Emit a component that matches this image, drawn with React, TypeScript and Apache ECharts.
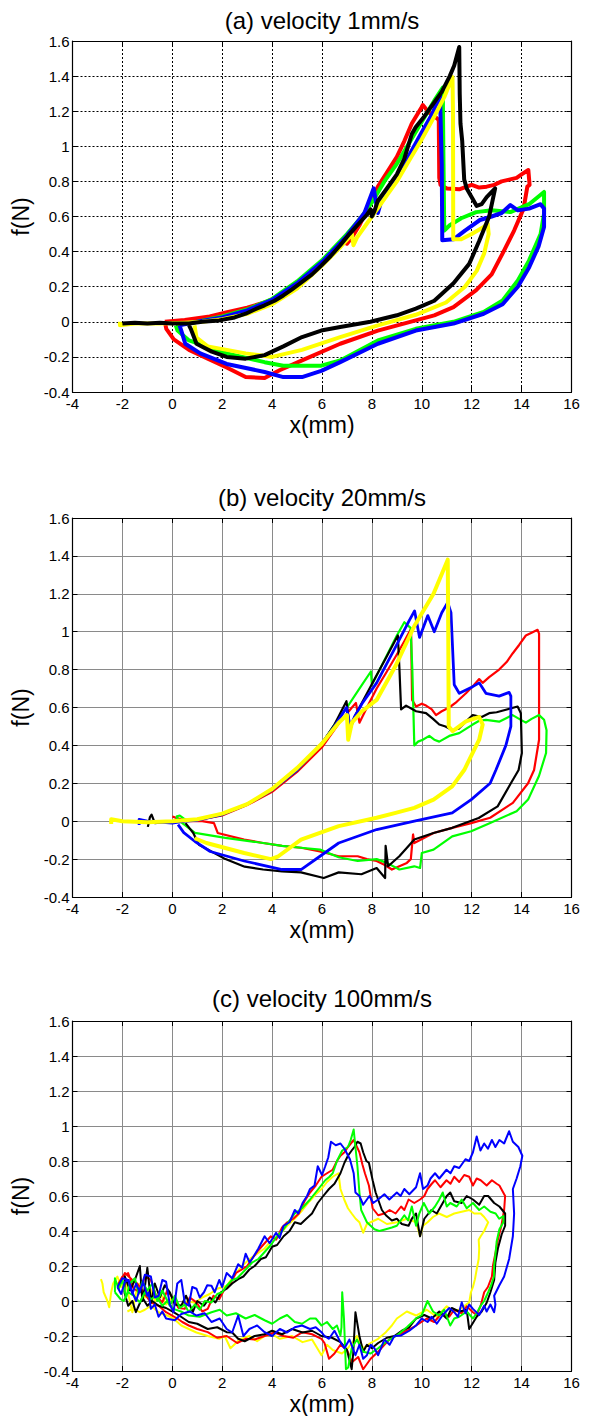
import React, { useEffect, useRef } from "react";
import * as echarts from "echarts";

const TITLES = ["(a) velocity 1mm/s", "(b) velocity 20mm/s", "(c) velocity 100mm/s"];
const X_NAME = "x(mm)";
const Y_NAME = "f(N)";
const X_RANGE = [-4, 16, 2];
const Y_RANGE = [-0.4, 1.6, 0.2];

const RED = "#ff0000";
const GREEN = "#00ff00";
const BLUE = "#0000ff";
const YELLOW = "#ffff00";
const BLACK = "#000000";

// ---------- panel (a) velocity 1mm/s ----------
const A_RED = [[-0.3,0.0],[0.5,0.01],[1.5,0.03],[2.2,0.055],[3,0.08],[3.7,0.11],[4.5,0.16],[5.2,0.235],[6,0.33],[6.5,0.4],[6.95,0.47],[7.0,0.445],[7.2,0.48],[7.5,0.55],[8.0,0.7],[8.24,0.77],[8.6,0.85],[9.0,0.94],[9.3,1.03],[9.6,1.13],[9.98,1.22],[10.04,1.235],[10.3,1.19],[10.6,1.16],[10.68,1.15],[10.7,0.82],[10.75,0.78],[10.85,0.77],[11,0.76],[11.5,0.755],[11.8,0.77],[12.0,0.78],[12.3,0.765],[12.6,0.77],[12.9,0.78],[13.2,0.8],[13.5,0.81],[13.8,0.82],[14.0,0.84],[14.27,0.865],[14.32,0.78],
[14.23,0.77],[14.08,0.645],[13.7,0.52],[13.24,0.39],[12.8,0.27],[12.18,0.18],[11.27,0.084],[10.5,0.037],[9.76,0.008],[8.24,-0.05],[6.73,-0.125],[5.2,-0.22],[4.3,-0.276],[3.7,-0.32],[2.94,-0.315],[2.18,-0.26],[1.42,-0.21],[0.67,-0.16],[0.06,-0.1],[-0.24,-0.04],[-0.3,0.0]];
const A_GREEN = [[0.14,-0.02],[1,0.0],[2,0.03],[3,0.07],[4,0.13],[5,0.23],[6,0.35],[7,0.5],[7.6,0.6],[8.0,0.68],[8.5,0.8],[9,0.9],[9.5,1.02],[10,1.14],[10.5,1.26],[10.84,1.334],[10.87,0.9],[10.9,0.52],[11.12,0.55],[11.58,0.59],[12.18,0.625],[12.8,0.635],[13.55,0.625],[14.3,0.67],[14.9,0.74],
[14.9,0.616],[14.76,0.5],[14.3,0.35],[13.85,0.236],[13.24,0.122],[12.48,0.056],[11.27,0.0],[9.76,-0.04],[8.24,-0.106],[6.73,-0.22],[5.97,-0.25],[4.45,-0.25],[3.7,-0.23],[2.18,-0.18],[0.67,-0.106],[0.21,-0.05],[0.14,-0.02]];
const A_BLUE = [[0.29,-0.02],[1,0.0],[2,0.025],[3,0.065],[4,0.125],[5,0.22],[6,0.34],[7,0.49],[7.7,0.62],[8.07,0.76],[8.24,0.62],[8.4,0.7],[9,0.82],[9.5,0.95],[10,1.08],[10.4,1.18],[10.73,1.286],[10.8,0.9],[10.82,0.465],[11.27,0.47],[11.73,0.52],[12.33,0.58],[12.8,0.6],[13.2,0.62],[13.55,0.665],[13.85,0.635],[14.3,0.645],[14.76,0.67],[14.9,0.645],
[14.9,0.54],[14.68,0.43],[14.3,0.31],[13.85,0.2],[13.24,0.1],[12.48,0.046],[11.27,-0.01],[9.76,-0.05],[8.24,-0.125],[6.73,-0.23],[5.97,-0.28],[5.2,-0.315],[4.45,-0.315],[3.7,-0.286],[2.18,-0.24],[1.12,-0.18],[0.52,-0.125],[0.36,-0.05],[0.29,-0.02]];
const A_YELLOW = [[-2.1,0.0],[-2.1,-0.02],[-1.5,-0.01],[-0.5,-0.01],[0.5,-0.005],[1.2,0.0],[2,0.015],[3,0.045],[4,0.1],[5,0.19],[6,0.32],[6.7,0.42],[7.2,0.5],[7.26,0.436],[7.4,0.48],[7.8,0.56],[8.2,0.64],[8.6,0.72],[9,0.8],[9.5,0.92],[10,1.04],[10.5,1.17],[10.9,1.28],[11.23,1.395],[11.25,1.2],[11.26,0.47],[11.58,0.47],[12.0,0.5],[12.48,0.54],[12.64,0.56],
[12.68,0.5],[12.5,0.39],[12.2,0.29],[11.73,0.2],[10.97,0.11],[9.76,0.04],[8.24,-0.02],[6.73,-0.087],[5.2,-0.16],[4.0,-0.2],[3.5,-0.19],[2.94,-0.18],[1.42,-0.14],[0.97,-0.09],[0.89,-0.02]];
const A_BLACK = [[-2.0,-0.01],[-1.5,-0.005],[-1,-0.01],[-0.5,-0.005],[0,-0.01],[0.67,-0.01],[1.2,0.0],[1.88,0.008],[2.5,0.025],[2.94,0.046],[3.3,0.07],[3.7,0.094],[4.1,0.12],[4.45,0.15],[4.8,0.185],[5.2,0.227],[5.6,0.27],[5.97,0.32],[6.35,0.375],[6.73,0.436],[7.1,0.5],[7.48,0.56],[7.8,0.61],[7.95,0.64],[8.0,0.6],[8.1,0.63],[8.24,0.69],[8.6,0.76],[9.0,0.84],[9.3,0.93],[9.6,1.07],[9.76,1.11],[10.1,1.17],[10.5,1.25],[10.8,1.31],[11.12,1.40],[11.3,1.46],[11.5,1.566],[11.52,1.3],[11.55,1.13],[11.62,1.03],[11.7,0.81],[11.8,0.76],[12.0,0.71],[12.2,0.66],[12.4,0.67],[12.6,0.71],[12.94,0.76],
[12.7,0.6],[12.3,0.46],[11.9,0.33],[11.27,0.22],[10.5,0.12],[9.76,0.075],[9.0,0.037],[7.94,0.0],[6.73,-0.03],[5.97,-0.05],[5.2,-0.087],[4.45,-0.14],[3.7,-0.19],[2.94,-0.21],[2.18,-0.2],[1.58,-0.17],[0.97,-0.125],[0.74,-0.04],[0.67,-0.02]];

// ---------- panel (b) velocity 20mm/s ----------
const B_RED = [[0.0,0.025],[0.3,0.01],[1,0.005],[2,0.03],[3,0.085],[4,0.155],[5,0.26],[6,0.39],[6.7,0.52],[7.2,0.6],[7.36,0.624],[7.5,0.52],[7.8,0.6],[8.19,0.7],[8.6,0.79],[9.0,0.88],[9.3,0.95],[9.57,1.016],[9.61,0.64],[9.77,0.605],[10.0,0.62],[10.17,0.61],[10.4,0.59],[10.57,0.56],[10.8,0.58],[11.1,0.6],[11.4,0.63],[11.77,0.675],[12.1,0.72],[12.3,0.75],[12.44,0.73],[12.7,0.76],[13.1,0.8],[13.4,0.84],[13.64,0.885],[13.9,0.93],[14.17,0.98],[14.4,0.995],[14.64,1.01],[14.7,0.99],
[14.7,0.43],[14.5,0.27],[14.26,0.2],[13.65,0.097],[12.74,0.018],[11.98,-0.01],[11.22,-0.035],[10.47,-0.062],[9.7,-0.115],[9.65,-0.07],[9.56,-0.2],[9.4,-0.22],[8.8,-0.255],[8.5,-0.23],[8.19,-0.21],[7.8,-0.2],[7.43,-0.185],[6.67,-0.185],[5.92,-0.16],[5.16,-0.14],[4.4,-0.13],[3.64,-0.115],[2.88,-0.097],[1.82,-0.062],[1.67,-0.01],[1.2,0.0],[0.6,0.0],[0.0,0.025]];
const B_GREEN = [[0.15,0.025],[0.3,0.03],[0.6,0.0],[1,0.005],[2,0.035],[3,0.09],[4,0.165],[5,0.27],[6,0.41],[6.6,0.53],[7.0,0.6],[7.5,0.7],[7.96,0.79],[8.0,0.72],[8.5,0.85],[9.0,0.98],[9.3,1.05],[9.55,1.02],[9.62,0.8],[9.7,0.4],[9.85,0.42],[10.04,0.43],[10.3,0.45],[10.5,0.43],[10.7,0.42],[11.1,0.45],[11.5,0.465],[11.8,0.49],[12.04,0.51],[12.3,0.53],[12.57,0.535],[13.1,0.525],[13.4,0.545],[13.64,0.56],[13.9,0.54],[14.17,0.52],[14.4,0.54],[14.7,0.56],[14.9,0.535],[15.0,0.48],
[14.98,0.36],[14.7,0.24],[14.26,0.114],[13.8,0.053],[12.74,-0.01],[11.98,-0.053],[11.22,-0.08],[10.47,-0.15],[10.0,-0.168],[9.93,-0.247],[9.7,-0.238],[9.1,-0.255],[8.6,-0.22],[8.19,-0.2],[7.43,-0.21],[6.67,-0.19],[5.92,-0.15],[5.16,-0.14],[4.4,-0.13],[3.64,-0.115],[2.13,-0.088],[0.91,-0.062],[0.3,0.0],[0.15,0.025]];
const B_BLACK = [[-0.98,-0.03],[-0.9,0.02],[-0.83,0.035],[-0.7,-0.01],[0,0.0],[0.5,0.0],[1,0.01],[2,0.035],[3,0.09],[3.95,0.16],[5,0.27],[5.99,0.41],[6.5,0.51],[6.98,0.633],[7.13,0.48],[7.3,0.55],[7.58,0.62],[8.19,0.77],[8.6,0.87],[9.04,0.98],[9.1,0.815],[9.17,0.59],[9.37,0.61],[9.77,0.58],[10.17,0.57],[10.45,0.54],[10.7,0.51],[10.95,0.5],[11.24,0.48],[11.5,0.49],[11.8,0.53],[12.04,0.56],[12.4,0.55],[12.7,0.57],[13.0,0.575],[13.37,0.588],[13.84,0.605],[13.97,0.57],
[14.01,0.36],[13.88,0.27],[13.57,0.2],[13.04,0.078],[12.28,0.017],[11.22,-0.035],[10.47,-0.062],[9.7,-0.097],[9.1,-0.185],[8.65,-0.238],[8.55,-0.13],[8.53,-0.3],[8.19,-0.247],[7.58,-0.28],[6.67,-0.27],[6.07,-0.3],[5.16,-0.27],[4.4,-0.265],[3.64,-0.255],[2.9,-0.24],[2.13,-0.2],[1.07,-0.124],[0.84,-0.062],[0.53,-0.01]];
const B_BLUE = [[-1.33,-0.02],[-1.33,0.01],[-1,0.0],[0,-0.01],[0.5,0.0],[1,0.005],[2,0.035],[3,0.09],[3.95,0.16],[5,0.27],[5.99,0.41],[6.5,0.5],[6.98,0.6],[7.13,0.5],[7.3,0.55],[7.6,0.62],[8.19,0.73],[8.95,0.92],[9.5,1.06],[9.71,1.11],[9.91,0.97],[10.24,1.085],[10.5,1.0],[10.8,1.1],[11.04,1.155],[11.17,1.1],[11.3,0.72],[11.5,0.675],[12.04,0.71],[12.3,0.73],[12.57,0.675],[13.1,0.66],[13.5,0.68],[13.57,0.66],
[13.57,0.5],[13.37,0.4],[12.97,0.27],[12.74,0.2],[11.98,0.114],[11.22,0.044],[9.7,0.0],[8.19,-0.044],[6.67,-0.115],[5.92,-0.185],[5.16,-0.255],[4.4,-0.255],[2.88,-0.21],[1.52,-0.16],[0.91,-0.107],[0.46,-0.06],[0.23,-0.018]];
const B_YELLOW = [[-2.45,-0.015],[-2.45,0.01],[-2,0.0],[-1,-0.005],[0,0.0],[1,0.01],[2,0.04],[3,0.09],[4,0.17],[5,0.28],[6,0.41],[6.67,0.52],[7.0,0.56],[7.05,0.43],[7.2,0.52],[7.6,0.58],[8.19,0.64],[8.95,0.82],[9.7,1.03],[10.47,1.2],[11.04,1.38],[11.06,1.0],[11.08,0.5],[11.24,0.475],[11.77,0.527],[12.3,0.55],[12.44,0.51],
[12.3,0.43],[11.7,0.27],[11.22,0.184],[10.47,0.114],[9.7,0.07],[8.95,0.044],[8.19,0.018],[6.67,-0.026],[5.16,-0.097],[4.25,-0.185],[3.95,-0.2],[2.88,-0.168],[1.37,-0.115],[0.9,-0.09]];

// ---------- panel (c) velocity 100mm/s ----------
const C_YELLOW = [[-2.86,0.125],[-2.8,0.1],[-2.75,0.05],[-2.6,0.0],[-2.53,-0.036],[-2.45,0.05],[-2.37,0.1],[-2.2,0.14],[-2.05,0.08],[-1.9,0.12],[-1.75,0.03],[-1.6,-0.064],[-1.45,0.05],[-1.3,0.1],[-1.1,0.02],[-0.9,0.08],[-0.7,0.0],[-0.5,0.05],[-0.25,-0.02],[0.0,0.02],[0.3,-0.03],[0.6,0.0],[0.9,-0.01],[1.2,0.02],[1.5,0.04],[1.8,0.07],[2.18,0.087],[2.5,0.15],[2.8,0.2],[3.1,0.24],[3.4,0.27],[3.7,0.3],[4.0,0.35],[4.3,0.38],[4.6,0.43],[4.9,0.47],[5.22,0.52],[5.5,0.57],[5.75,0.61],[5.98,0.64],[6.2,0.68],[6.43,0.71],[6.66,0.73],[6.74,0.64],[6.89,0.58],[7.04,0.53],[7.19,0.5],[7.35,0.47],[7.5,0.45],[7.65,0.39],[7.8,0.44],[7.95,0.45],[8.25,0.47],[8.6,0.44],[9.0,0.45],[9.4,0.47],[9.77,0.45],[9.93,0.37],[10.05,0.43],[10.23,0.45],[10.45,0.48],[10.69,0.5],[11.0,0.48],[11.3,0.5],[11.6,0.51],[11.9,0.52],[12.1,0.5],[12.36,0.5],[12.5,0.48],[12.66,0.45],[12.5,0.4],[12.36,0.37],[12.28,0.35],[12.3,0.3],[12.28,0.24],[12.2,0.18],[12.13,0.125],[12.05,0.08],[11.97,0.05],[11.9,-0.008],
[11.6,-0.04],[11.3,-0.064],[11.0,-0.03],[10.6,-0.09],[10.2,-0.05],[9.77,-0.083],[9.4,-0.06],[9.0,-0.1],[8.8,-0.14],[8.56,-0.178],[8.25,-0.216],[7.95,-0.24],[7.65,-0.27],[7.4,-0.2],[7.04,-0.27],[6.8,-0.3],[6.43,-0.28],[6.2,-0.25],[5.98,-0.31],[5.6,-0.22],[5.22,-0.235],[4.8,-0.2],[4.31,-0.216],[4.0,-0.19],[3.7,-0.2],[3.4,-0.23],[3.09,-0.2],[2.7,-0.22],[2.33,-0.27],[2.1,-0.2],[1.88,-0.216],[1.42,-0.2],[0.97,-0.18],[0.66,-0.16],[0.36,-0.14],[0.05,-0.1],[-0.25,-0.08],[-0.55,-0.064],[-0.86,-0.027],[-1.1,-0.05],[-1.3,-0.064],[-1.6,-0.045],[-1.8,-0.06]];
const C_RED = [[-2.2,0.087],[-2.0,0.14],[-1.77,0.16],[-1.55,0.07],[-1.3,0.05],[-1.1,0.14],[-0.86,0.12],[-0.65,0.03],[-0.4,-0.008],[-0.2,0.06],[0.05,0.01],[0.25,-0.04],[0.5,-0.045],[0.7,0.02],[0.97,-0.008],[1.2,-0.06],[1.42,-0.045],[1.65,0.03],[1.88,0.01],[2.1,0.07],[2.33,0.1],[2.55,0.16],[2.79,0.18],[3.0,0.2],[3.24,0.25],[3.45,0.29],[3.7,0.33],[3.95,0.37],[4.16,0.35],[4.4,0.42],[4.61,0.45],[4.85,0.47],[5.07,0.5],[5.3,0.57],[5.52,0.62],[5.75,0.66],[5.98,0.71],[6.2,0.73],[6.43,0.75],[6.6,0.8],[6.74,0.83],[6.9,0.85],[7.04,0.88],[7.27,0.92],[7.5,0.85],[7.62,0.78],[7.72,0.73],[7.88,0.66],[8.03,0.53],[8.25,0.49],[8.5,0.5],[8.71,0.52],[8.95,0.5],[9.17,0.54],[9.3,0.52],[9.47,0.58],[9.7,0.56],[9.93,0.58],[10.1,0.6],[10.23,0.64],[10.4,0.67],[10.53,0.69],[10.75,0.65],[10.99,0.69],[11.15,0.67],[11.3,0.71],[11.5,0.68],[11.7,0.72],[11.9,0.71],[12.05,0.66],[12.2,0.7],[12.36,0.69],[12.6,0.66],[12.81,0.69],[13.0,0.67],[13.11,0.66],[13.34,0.6],[13.3,0.52],[13.19,0.43],[13.05,0.35],[12.96,0.28],[12.85,0.2],[12.81,0.14],[12.65,0.08],[12.5,0.05],[12.36,-0.027],[12.2,-0.08],[12.05,-0.064],[11.8,-0.03],[11.6,-0.07],[11.3,-0.05],[11.1,-0.09],[10.8,-0.07],[10.5,-0.12],[10.2,-0.1],[9.77,-0.14],[9.4,-0.17],[9.0,-0.197],[8.7,-0.22],[8.5,-0.25],[8.25,-0.29],[8.1,-0.31],[7.95,-0.33],[7.8,-0.36],[7.65,-0.39],[7.45,-0.32],[7.2,-0.35],[7.0,-0.28],[6.74,-0.25],[6.5,-0.3],[6.28,-0.33],[6.1,-0.24],[5.98,-0.216],[5.6,-0.19],[5.22,-0.178],[4.85,-0.21],[4.46,-0.2],[4.1,-0.18],[3.7,-0.2],[3.3,-0.22],[2.94,-0.216],[2.6,-0.24],[2.18,-0.2],[1.8,-0.21],[1.42,-0.178],[1.0,-0.16],[0.66,-0.14],[0.4,-0.12],[0.2,-0.1],[-0.25,-0.064],[-0.55,-0.027],[-0.86,-0.008],[-1.16,0.05],[-1.4,0.1],[-1.6,0.12],[-1.9,0.16],[-2.05,0.12],[-2.2,0.087]];
const C_BLACK = [[-1.92,0.05],[-1.9,0.14],[-1.7,0.06],[-1.5,0.12],[-1.3,0.2],[-1.2,0.0],[-1.1,0.08],[-1.0,0.19],[-0.85,-0.01],[-0.7,0.1],[-0.5,0.02],[-0.3,0.09],[-0.1,0.05],[0.1,-0.02],[0.36,-0.027],[0.55,0.03],[0.82,-0.064],[1.0,0.0],[1.27,-0.027],[1.5,0.02],[1.73,-0.008],[1.95,0.05],[2.18,0.07],[2.4,0.1],[2.64,0.125],[2.85,0.14],[3.09,0.18],[3.3,0.2],[3.55,0.24],[3.75,0.25],[4.0,0.31],[4.2,0.32],[4.46,0.37],[4.7,0.4],[4.91,0.45],[5.15,0.44],[5.37,0.47],[5.6,0.5],[5.83,0.56],[6.05,0.6],[6.28,0.64],[6.5,0.67],[6.74,0.73],[6.9,0.79],[7.04,0.83],[7.19,0.86],[7.3,0.88],[7.42,0.91],[7.55,0.9],[7.65,0.85],[7.78,0.8],[7.88,0.79],[8.03,0.69],[8.15,0.62],[8.25,0.58],[8.4,0.52],[8.56,0.49],[8.8,0.46],[9.0,0.47],[9.2,0.44],[9.47,0.43],[9.6,0.47],[9.77,0.5],[9.93,0.37],[10.1,0.47],[10.38,0.52],[10.6,0.5],[10.84,0.56],[11.0,0.6],[11.14,0.62],[11.3,0.57],[11.6,0.56],[11.8,0.6],[12.05,0.58],[12.3,0.55],[12.5,0.6],[12.66,0.6],[12.9,0.56],[13.11,0.54],[13.34,0.5],[13.34,0.43],
[13.2,0.38],[13.05,0.3],[12.95,0.22],[12.9,0.12],[12.75,0.05],[12.6,-0.01],[12.4,-0.06],[12.2,-0.09],[11.9,-0.16],[11.8,-0.05],[11.5,-0.06],[11.2,-0.04],[11.0,-0.1],[10.7,-0.06],[10.4,-0.1],[10.1,-0.08],[9.77,-0.1],[9.5,-0.15],[9.2,-0.17],[8.9,-0.2],[8.6,-0.21],[8.25,-0.24],[8.0,-0.27],[7.8,-0.25],[7.65,-0.29],[7.5,-0.2],[7.34,-0.064],[7.25,-0.3],[7.19,-0.39],[7.0,-0.28],[6.74,-0.235],[6.4,-0.21],[5.98,-0.2],[5.6,-0.17],[5.22,-0.18],[4.8,-0.16],[4.4,-0.19],[4.0,-0.17],[3.7,-0.19],[3.3,-0.2],[2.9,-0.23],[2.64,-0.216],[2.4,-0.18],[2.18,-0.178],[1.8,-0.15],[1.42,-0.16],[1.0,-0.13],[0.66,-0.12],[0.35,-0.09],[0.05,-0.064],[-0.25,-0.04],[-0.55,-0.027],[-0.8,0.0],[-1.0,-0.027],[-1.2,0.02],[-1.46,-0.064],[-1.6,0.0],[-1.77,-0.027],[-1.92,0.05]];
const C_GREEN = [[-2.3,0.05],[-2.3,0.13],[-2.15,0.07],[-2.0,0.12],[-1.85,0.02],[-1.7,0.1],[-1.5,0.13],[-1.35,0.04],[-1.2,0.11],[-1.0,0.06],[-0.8,0.1],[-0.6,0.0],[-0.4,0.06],[-0.1,-0.027],[0.1,0.03],[0.3,-0.04],[0.5,-0.02],[0.66,-0.064],[0.9,-0.02],[1.1,-0.05],[1.3,0.0],[1.57,-0.008],[1.8,0.04],[2.0,0.05],[2.18,0.087],[2.4,0.12],[2.6,0.13],[2.94,0.18],[3.2,0.22],[3.45,0.24],[3.7,0.28],[3.95,0.32],[4.2,0.37],[4.46,0.41],[4.7,0.46],[4.91,0.5],[5.2,0.53],[5.52,0.58],[5.8,0.63],[6.13,0.69],[6.3,0.71],[6.43,0.73],[6.6,0.8],[6.81,0.86],[7.04,0.88],[7.15,0.92],[7.27,0.98],[7.34,0.88],[7.42,0.77],[7.5,0.62],[7.57,0.52],[7.8,0.45],[8.1,0.41],[8.3,0.4],[8.56,0.41],[8.8,0.42],[9.0,0.43],[9.15,0.46],[9.3,0.49],[9.45,0.46],[9.6,0.54],[9.77,0.43],[9.9,0.5],[10.08,0.56],[10.3,0.5],[10.53,0.54],[10.7,0.58],[10.84,0.62],[11.0,0.54],[11.14,0.56],[11.4,0.54],[11.6,0.58],[11.8,0.53],[12.05,0.56],[12.3,0.52],[12.5,0.54],[12.75,0.51],[12.96,0.5],[13.1,0.47],[13.27,0.485],[13.27,0.45],[13.11,0.41],[13.0,0.34],[12.96,0.28],[12.9,0.2],[12.89,0.14],[12.78,0.09],[12.66,0.05],[12.5,0.0],[12.36,-0.027],[12.2,-0.07],[12.05,-0.1],
[11.8,-0.06],[11.5,-0.09],[11.3,-0.1],[11.14,-0.14],[10.9,-0.05],[10.69,-0.083],[10.45,-0.06],[10.23,0.0],[10.0,-0.08],[9.77,-0.1],[9.4,-0.15],[9.0,-0.197],[8.6,-0.23],[8.25,-0.27],[7.95,-0.3],[7.65,-0.29],[7.4,-0.22],[7.19,-0.27],[7.05,-0.38],[6.96,-0.39],[6.88,-0.1],[6.81,0.05],[6.78,-0.15],[6.74,-0.197],[6.6,-0.14],[6.43,-0.16],[6.2,-0.12],[5.98,-0.14],[5.75,-0.1],[5.52,-0.1],[5.2,-0.13],[4.91,-0.12],[4.6,-0.08],[4.31,-0.1],[4.0,-0.13],[3.7,-0.11],[3.3,-0.08],[2.94,-0.1],[2.55,-0.07],[2.18,-0.083],[1.9,-0.05],[1.57,-0.064],[1.1,-0.09],[0.66,-0.083],[0.35,-0.06],[0.05,-0.045],[-0.2,0.0],[-0.4,-0.027],[-0.65,0.03],[-0.86,0.01],[-1.1,0.05],[-1.3,-0.008],[-1.55,0.03],[-1.77,0.05],[-1.95,0.0],[-2.07,0.01],[-2.3,0.05]];
const C_BLUE = [[-2.2,0.08],[-2.0,0.13],[-1.77,0.12],[-1.6,0.04],[-1.45,0.1],[-1.3,0.05],[-1.1,0.15],[-0.86,0.14],[-0.7,0.02],[-0.55,0.03],[-0.4,0.12],[-0.25,0.11],[-0.1,-0.02],[0.05,-0.064],[0.2,0.1],[0.36,0.12],[0.5,-0.01],[0.66,-0.027],[0.8,0.08],[0.97,0.07],[1.1,0.02],[1.27,0.05],[1.4,0.09],[1.57,0.087],[1.7,0.05],[1.88,0.12],[2.0,0.08],[2.18,0.16],[2.4,0.13],[2.64,0.21],[2.8,0.19],[2.94,0.27],[3.1,0.22],[3.24,0.25],[3.45,0.3],[3.7,0.37],[3.9,0.33],[4.16,0.39],[4.3,0.36],[4.46,0.43],[4.7,0.45],[4.91,0.52],[5.05,0.5],[5.22,0.56],[5.4,0.6],[5.52,0.64],[5.7,0.66],[5.83,0.77],[6.0,0.72],[6.13,0.77],[6.25,0.82],[6.36,0.91],[6.55,0.89],[6.74,0.9],[6.9,0.87],[7.12,0.81],[7.27,0.73],[7.34,0.62],[7.5,0.6],[7.65,0.55],[7.9,0.6],[8.05,0.56],[8.25,0.58],[8.5,0.61],[8.7,0.58],[9.0,0.62],[9.15,0.6],[9.3,0.64],[9.5,0.61],[9.77,0.65],[9.93,0.73],[10.05,0.64],[10.23,0.66],[10.35,0.7],[10.53,0.73],[10.7,0.7],[10.99,0.75],[11.15,0.73],[11.3,0.77],[11.5,0.76],[11.75,0.81],[11.9,0.8],[12.05,0.85],[12.2,0.94],[12.35,0.86],[12.5,0.9],[12.65,0.87],[12.81,0.92],[12.95,0.88],[13.11,0.92],[13.3,0.9],[13.5,0.97],[13.65,0.91],[13.87,0.88],[14.03,0.83],[13.95,0.77],[13.8,0.7],[13.65,0.64],[13.7,0.5],[13.65,0.37],[13.5,0.24],[13.3,0.14],[13.11,0.09],[12.9,0.03],[12.95,-0.02],[12.9,-0.064],
[12.75,-0.02],[12.6,-0.06],[12.5,-0.027],[12.3,-0.08],[12.05,-0.045],[11.9,-0.02],[11.75,-0.07],[11.6,-0.008],[11.45,-0.09],[11.3,-0.064],[11.1,-0.04],[10.84,-0.08],[10.6,-0.13],[10.4,-0.09],[10.23,-0.12],[10.0,-0.1],[9.77,-0.14],[9.5,-0.17],[9.17,-0.197],[8.9,-0.2],[8.71,-0.25],[8.5,-0.22],[8.25,-0.31],[8.1,-0.27],[7.95,-0.25],[7.8,-0.31],[7.65,-0.33],[7.5,-0.25],[7.34,-0.31],[7.1,-0.22],[6.9,-0.27],[6.74,-0.235],[6.5,-0.17],[6.28,-0.216],[6.1,-0.2],[5.98,-0.178],[5.75,-0.15],[5.52,-0.16],[5.2,-0.14],[4.91,-0.15],[4.6,-0.18],[4.31,-0.16],[4.0,-0.2],[3.7,-0.178],[3.4,-0.14],[3.09,-0.16],[2.85,-0.2],[2.64,-0.083],[2.4,-0.18],[2.18,-0.16],[1.9,-0.1],[1.57,-0.12],[1.3,-0.07],[0.97,-0.083],[0.7,-0.06],[0.36,-0.074],[0.1,-0.11],[-0.25,-0.1],[-0.4,-0.06],[-0.55,-0.09],[-0.7,-0.02],[-0.86,-0.045],[-0.95,0.05],[-1.0,0.03],[-1.15,0.1],[-1.3,0.07],[-1.45,0.0],[-1.6,0.05],[-1.75,0.12],[-1.9,0.11],[-2.05,0.04],[-2.2,0.08]];

const PANELS = [
  { top: 41, height: 351, dotted: true, series: [[A_RED, RED, 4], [A_GREEN, GREEN, 4], [A_BLUE, BLUE, 4], [A_YELLOW, YELLOW, 4], [A_BLACK, BLACK, 4]] },
  { top: 518, height: 379, dotted: false, series: [[B_RED, RED, 2.2], [B_GREEN, GREEN, 2.2], [B_BLACK, BLACK, 2.2], [B_BLUE, BLUE, 2.8], [B_YELLOW, YELLOW, 4]] },
  { top: 1021, height: 351, dotted: false, series: [[C_YELLOW, YELLOW, 2], [C_RED, RED, 2], [C_BLACK, BLACK, 2], [C_GREEN, GREEN, 2], [C_BLUE, BLUE, 2]] },
];
const TITLE_Y = [20, 497, 998];

const FONT = "'Liberation Sans', Arial, Helvetica, sans-serif";
const LEFT = 72.5;
const WIDTH = 499;

export default function App() {
  const ref = useRef<HTMLDivElement>(null);
  useEffect(() => {
    document.body.style.margin = "0";
    const chart = echarts.init(ref.current as HTMLDivElement, null, { renderer: "svg" });
    const grids: any[] = [];
    const xAxes: any[] = [];
    const yAxes: any[] = [];
    const series: any[] = [];
    const graphics: any[] = [];
    const fmt = (v: number) => String(Math.round(v * 10) / 10);
    PANELS.forEach((p, i) => {
      grids.push({ left: LEFT, top: p.top, width: WIDTH, height: p.height, containLabel: false });
      const split = p.dotted
        ? { show: true, lineStyle: { color: "#000", width: 1, type: [2, 2] } }
        : { show: true, lineStyle: { color: "#8a8a8a", width: 1, type: "solid" } };
      const tick = { show: true, inside: true, length: 5, lineStyle: { color: "#000", width: 1 } };
      const line = { show: true, onZero: false, lineStyle: { color: "#000", width: 1.2 } };
      xAxes.push({
        type: "value", gridIndex: i, position: "bottom", min: X_RANGE[0], max: X_RANGE[1], interval: X_RANGE[2],
        axisLine: line, axisTick: tick, splitLine: split,
        axisLabel: { show: true, margin: 4, color: "#000", fontSize: 15, fontFamily: FONT, formatter: fmt },
        name: X_NAME, nameLocation: "middle", nameGap: 21,
        nameTextStyle: { color: "#000", fontSize: 23, fontFamily: FONT, verticalAlign: "top" },
      });
      xAxes.push({
        type: "value", gridIndex: i, position: "top", min: X_RANGE[0], max: X_RANGE[1], interval: X_RANGE[2],
        axisLine: line, axisTick: tick, splitLine: { show: false }, axisLabel: { show: false },
      });
      yAxes.push({
        type: "value", gridIndex: i, position: "left", min: Y_RANGE[0], max: Y_RANGE[1], interval: Y_RANGE[2],
        axisLine: line, axisTick: tick, splitLine: split,
        axisLabel: { show: true, margin: 3, color: "#000", fontSize: 15, fontFamily: FONT, formatter: fmt },
        name: Y_NAME, nameLocation: "middle", nameGap: 34, nameRotate: 90,
        nameTextStyle: { color: "#000", fontSize: 23, fontFamily: FONT },
      });
      yAxes.push({
        type: "value", gridIndex: i, position: "right", min: Y_RANGE[0], max: Y_RANGE[1], interval: Y_RANGE[2],
        axisLine: line, axisTick: tick, splitLine: { show: false }, axisLabel: { show: false },
      });
      p.series.forEach(([data, color, width]: any) => {
        series.push({
          type: "line", xAxisIndex: 2 * i, yAxisIndex: 2 * i, data, showSymbol: false, symbol: "none",
          silent: true, clip: true, lineStyle: { color, width, join: "round" }, z: 3,
        });
      });
      graphics.push({
        type: "text", x: LEFT + WIDTH / 2, y: TITLE_Y[i],
        style: { text: TITLES[i], fill: "#000", font: `24px ${FONT}`, textAlign: "center", textVerticalAlign: "middle" },
      });
    });
    chart.setOption({
      animation: false,
      backgroundColor: "#fff",
      grid: grids,
      xAxis: xAxes,
      yAxis: yAxes,
      series,
      graphic: graphics,
    });
    return () => chart.dispose();
  }, []);
  return <div ref={ref} style={{ width: 592, height: 1416 }} />;
}
